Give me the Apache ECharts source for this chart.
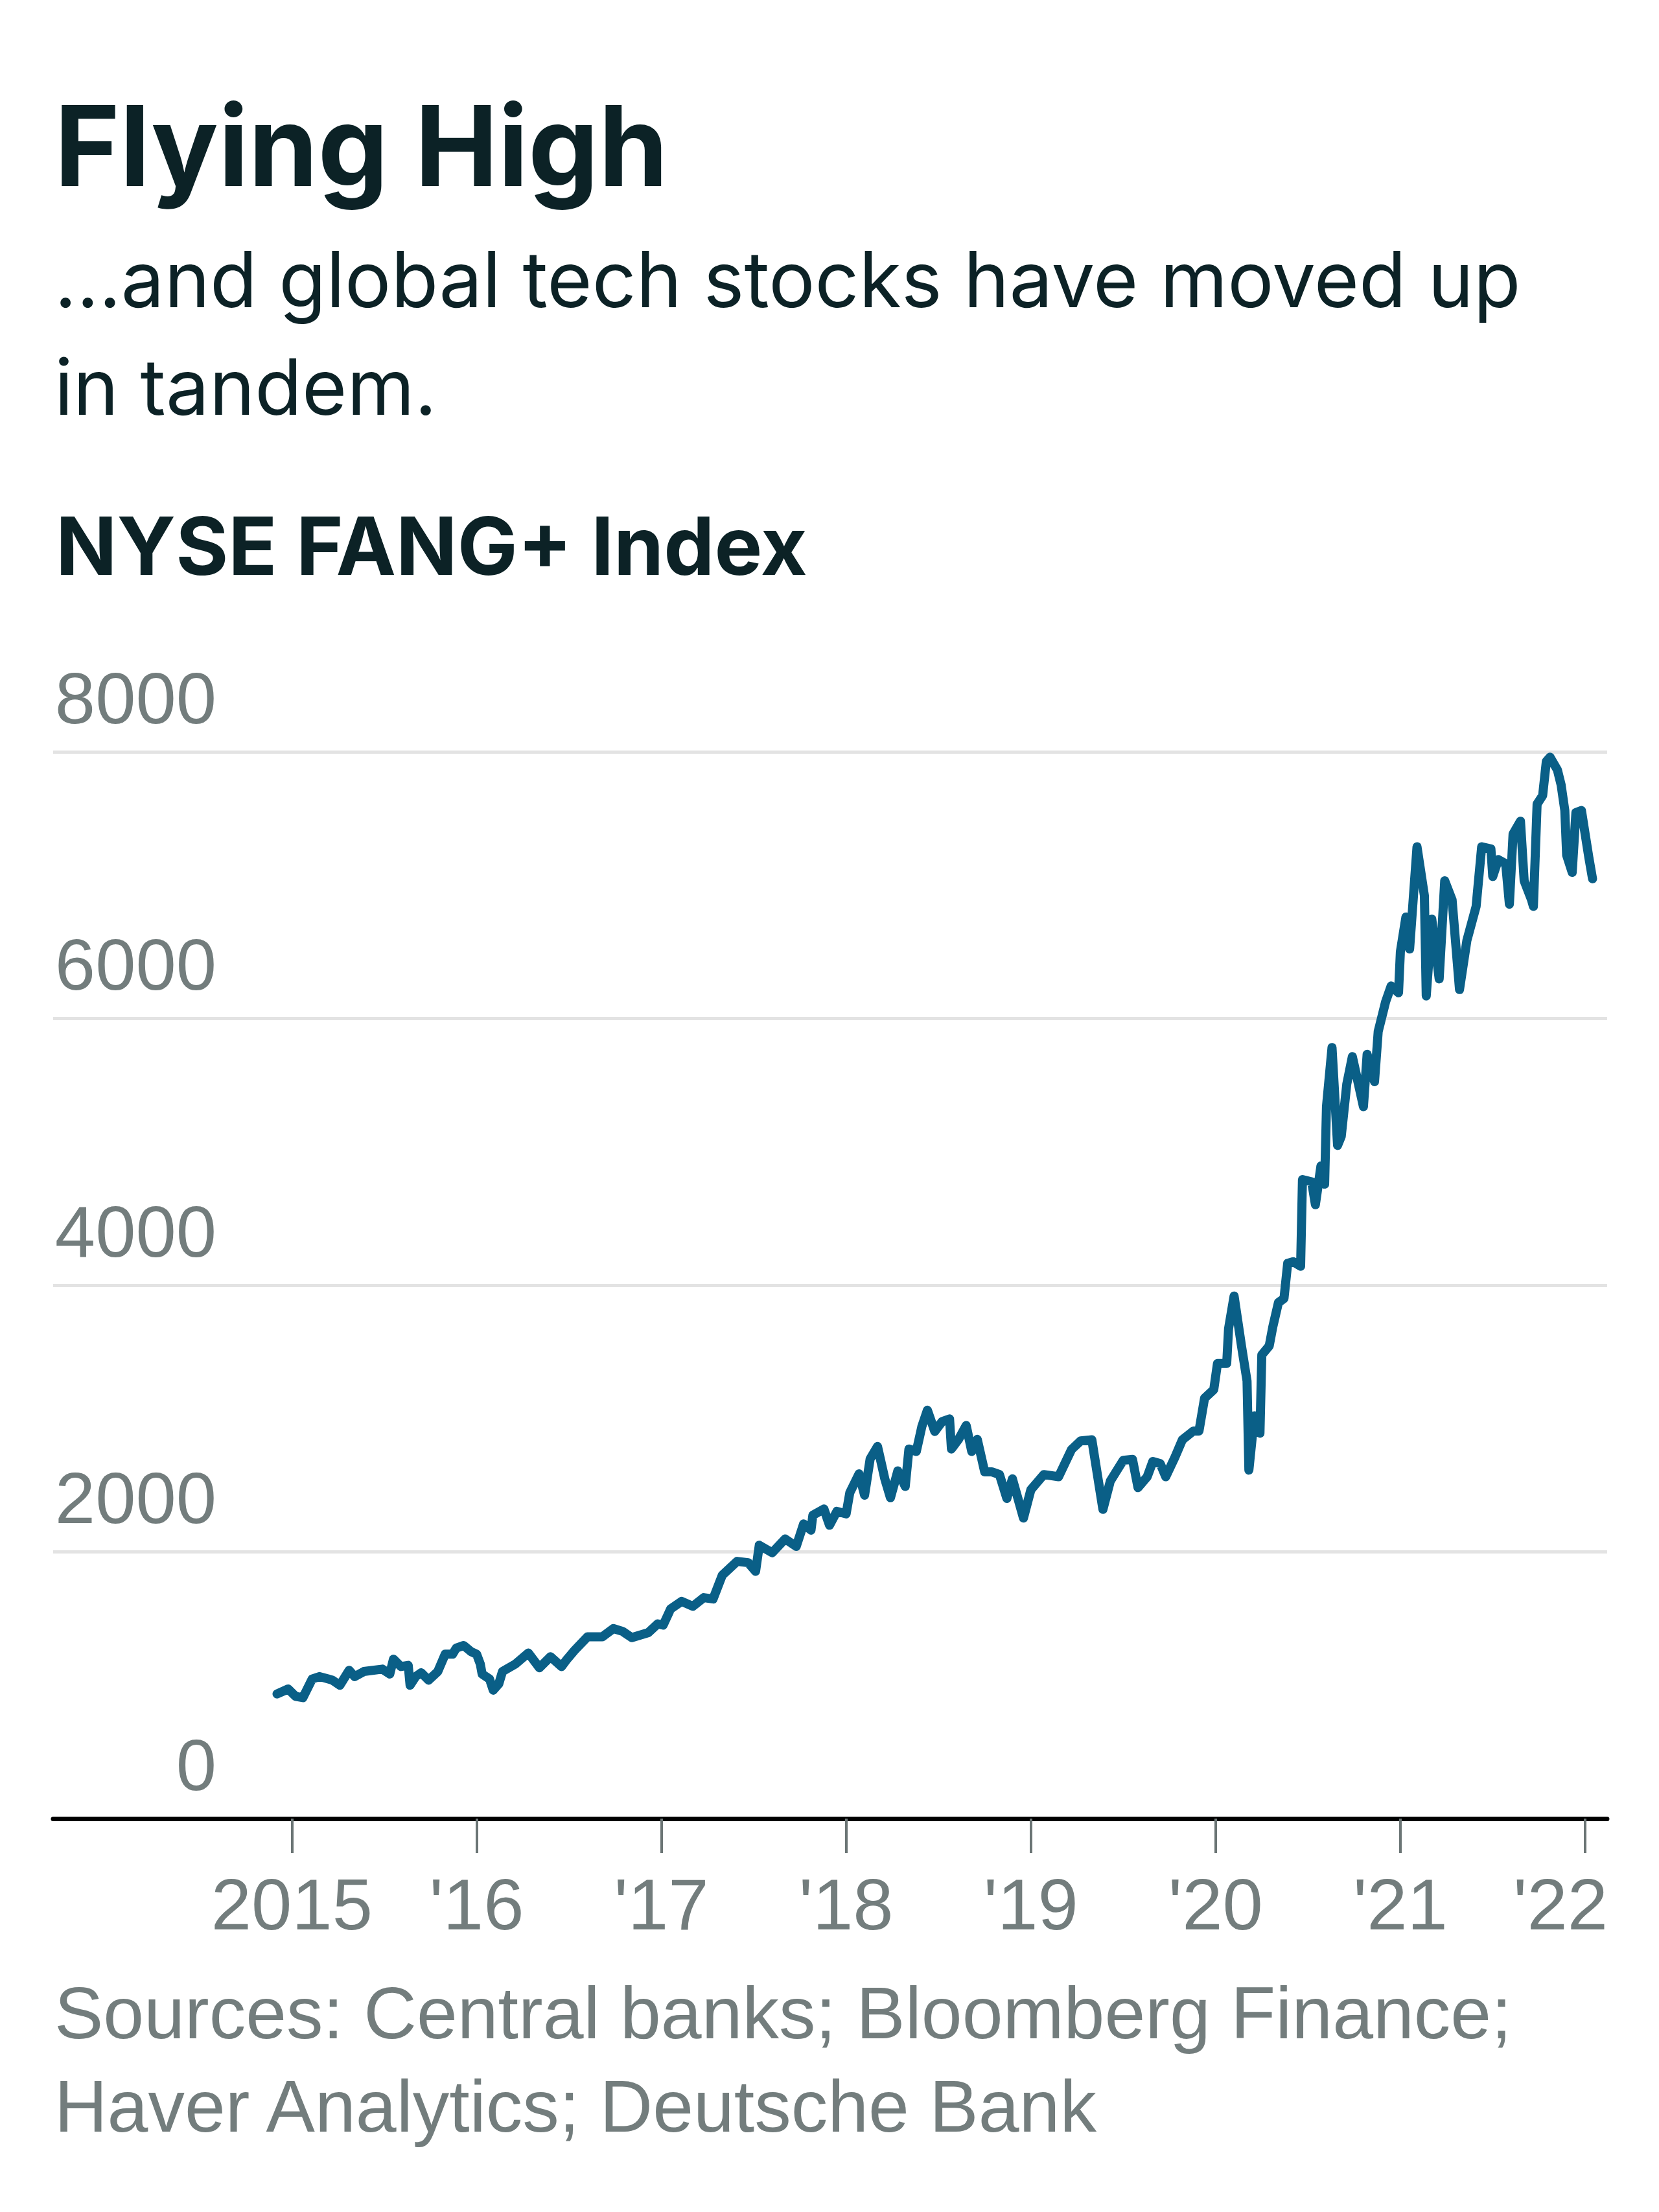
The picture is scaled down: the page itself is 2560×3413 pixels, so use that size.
<!DOCTYPE html>
<html>
<head>
<meta charset="utf-8">
<title>Flying High</title>
<script src="https://cdn.jsdelivr.net/npm/echarts@6/dist/echarts.min.js"></script>
<style>
  html, body { margin: 0; padding: 0; background: #fff; }
  #chart { width: 2560px; height: 3413px; }
</style>
</head>
<body>
<div id="chart"></div>
<script>
// position on the time axis, in decimal years
var yearPos = [
    2014.92, 2014.98, 2015.02, 2015.06, 2015.11, 2015.15, 2015.22, 2015.26, 2015.31, 2015.34,
    2015.39, 2015.49, 2015.53, 2015.55, 2015.59, 2015.63, 2015.64, 2015.67, 2015.70, 2015.74,
    2015.79, 2015.83, 2015.87, 2015.89, 2015.93, 2015.97, 2016.00, 2016.02, 2016.03, 2016.07,
    2016.09, 2016.12, 2016.14, 2016.21, 2016.28, 2016.34, 2016.40, 2016.46, 2016.49, 2016.53,
    2016.60, 2016.68, 2016.74, 2016.79, 2016.84, 2016.93, 2016.98, 2017.01, 2017.05, 2017.11,
    2017.17, 2017.23, 2017.28, 2017.33, 2017.41, 2017.47, 2017.51, 2017.53, 2017.60, 2017.67,
    2017.73, 2017.77, 2017.81, 2017.82, 2017.88, 2017.91, 2017.95, 2018.00, 2018.02, 2018.07,
    2018.10, 2018.13, 2018.17, 2018.21, 2018.24, 2018.28, 2018.32, 2018.34, 2018.38, 2018.41,
    2018.44, 2018.48, 2018.52, 2018.56, 2018.57, 2018.61, 2018.65, 2018.68, 2018.71, 2018.75,
    2018.79, 2018.83, 2018.87, 2018.90, 2018.96, 2019.00, 2019.07, 2019.15, 2019.22, 2019.27,
    2019.33, 2019.39, 2019.43, 2019.50, 2019.55, 2019.58, 2019.63, 2019.66, 2019.70, 2019.73,
    2019.78, 2019.82, 2019.88, 2019.91, 2019.94, 2019.99, 2020.01, 2020.06, 2020.07, 2020.10,
    2020.14, 2020.17, 2020.18, 2020.21, 2020.24, 2020.25, 2020.29, 2020.31, 2020.34, 2020.37,
    2020.39, 2020.42, 2020.46, 2020.47, 2020.52, 2020.54, 2020.57, 2020.59, 2020.60, 2020.63,
    2020.66, 2020.68, 2020.71, 2020.74, 2020.80, 2020.82, 2020.86, 2020.88, 2020.92, 2020.95,
    2020.99, 2021.00, 2021.03, 2021.05, 2021.09, 2021.13, 2021.14, 2021.17, 2021.21, 2021.24,
    2021.28, 2021.32, 2021.36, 2021.41, 2021.44, 2021.49, 2021.50, 2021.53, 2021.57, 2021.59,
    2021.61, 2021.65, 2021.67, 2021.71, 2021.72, 2021.74, 2021.77, 2021.79, 2021.81, 2021.85,
    2021.87, 2021.89, 2021.90, 2021.93, 2021.95, 2021.98, 2022.00, 2022.02, 2022.04
];

// NYSE FANG+ index level
var fangValues = [
    935, 972, 917, 907, 1047, 1065, 1038, 1000, 1112, 1065,
    1103, 1121, 1084, 1196, 1140, 1149, 1000, 1065, 1094, 1038,
    1103, 1233, 1233, 1279, 1298, 1252, 1233, 1159, 1084, 1047,
    963, 1010, 1103, 1159, 1242, 1131, 1214, 1140, 1196, 1261,
    1363, 1363, 1425, 1404, 1357, 1395, 1460, 1451, 1572, 1629,
    1592, 1657, 1647, 1826, 1929, 1919, 1854, 2050, 1994, 2097,
    2041, 2210, 2163, 2275, 2322, 2200, 2304, 2285, 2444, 2585,
    2425, 2697, 2791, 2545, 2406, 2608, 2491, 2772, 2753, 2941,
    3063, 2903, 2978, 2997, 2772, 2847, 2948, 2753, 2844, 2600,
    2600, 2580, 2401, 2548, 2254, 2466, 2580, 2564, 2768, 2833,
    2841, 2319, 2531, 2687, 2694, 2482, 2564, 2678, 2662, 2564,
    2711, 2841, 2907, 2907, 3152, 3217, 3413, 3413, 3674, 3919,
    3544, 3282, 2613, 3021, 2890, 3478, 3544, 3691, 3870, 3900,
    4164, 4176, 4142, 4792, 4775, 4604, 4894, 4758, 5339, 5783,
    5048, 5116, 5509, 5714, 5339, 5731, 5526, 5903, 6125, 6244,
    6193, 6500, 6761, 6521, 7288, 6921, 6169, 6745, 6297, 7033,
    6889, 6217, 6585, 6841, 7288, 7272, 7065, 7192, 7161, 6857,
    7384, 7480, 7033, 6889, 6841, 7608, 7672, 7928, 7960, 7864,
    7752, 7560, 7224, 7096, 7544, 7560, 7384, 7208, 7048
];

var tickYears = [2015, 2016, 2017, 2018, 2019, 2020, 2021, 2022];
var tickLabels = ['2015', "'16", "'17", "'18", "'19", "'20", "'21", "'22"];

var dark = '#0c2226';
var grey = '#737d7d';
var headFont = 'Inter, "Noto Sans", sans-serif';
var axisFont = '"Liberation Sans", Arial, sans-serif';

var seriesData = yearPos.map(function (x, i) {
    return [x, fangValues[i]];
});

var myChart = echarts.init(document.getElementById('chart'), null, { renderer: 'svg' });

var option = {
    backgroundColor: '#fff',
    animation: false,
    title: [
        {
            text: 'Flying High',
            left: 84,
            top: 138,
            padding: 0,
            textStyle: { fontFamily: headFont, fontWeight: 700, fontSize: 172, lineHeight: 172, color: dark }
        },
        {
            text: '...and global tech stocks have moved up\nin tandem.',
            left: 84,
            top: 348,
            padding: 0,
            textStyle: { fontFamily: headFont, fontWeight: 400, fontSize: 119, lineHeight: 166, color: dark }
        },
        {
            text: 'NYSE FANG+ Index',
            left: 86,
            top: 780,
            padding: 0,
            textStyle: { fontFamily: headFont, fontWeight: 700, fontSize: 124, lineHeight: 124, color: dark }
        },
        {
            text: 'Sources: Central banks; Bloomberg Finance;\nHaver Analytics; Deutsche Bank',
            left: 84,
            top: 3034,
            padding: 0,
            textStyle: { fontFamily: axisFont, fontWeight: 400, fontSize: 113, lineHeight: 144, color: grey }
        }
    ],
    grid: {
        left: 82,
        right: 69,
        top: 1160,
        bottom: 607,
        containLabel: false
    },
    xAxis: {
        type: 'value',
        min: 2013.708,
        max: 2022.119,
        splitLine: { show: false },
        axisLine: { show: true, lineStyle: { color: '#000', width: 7 } },
        axisTick: {
            show: true,
            customValues: tickYears,
            length: 53,
            lineStyle: { color: '#6b7575', width: 4 }
        },
        axisLabel: {
            customValues: tickYears,
            margin: 76,
            fontFamily: axisFont,
            fontSize: 112,
            lineHeight: 112,
            color: grey,
            formatter: function (v) {
                var i = tickYears.indexOf(Math.round(v));
                var s = tickLabels[i];
                return i === tickYears.length - 1 ? '{last|' + s + '}' : s;
            },
            rich: {
                last: {
                    fontFamily: axisFont,
                    fontSize: 112,
                    lineHeight: 112,
                    color: grey,
                    padding: [0, 76, 0, 0]
                }
            }
        }
    },
    yAxis: {
        type: 'value',
        min: 0,
        max: 8000,
        interval: 2000,
        axisLine: { show: false },
        axisTick: { show: false },
        splitLine: { lineStyle: { color: '#e3e3e3', width: 5 } },
        axisLabel: {
            inside: true,
            align: 'right',
            verticalAlign: 'bottom',
            margin: 252,
            padding: [0, 0, 27, 0],
            fontFamily: axisFont,
            fontSize: 112,
            lineHeight: 112,
            color: grey,
            formatter: function (v) {
                return String(v);
            }
        }
    },
    series: [
        {
            name: 'NYSE FANG+ Index',
            type: 'line',
            data: seriesData,
            showSymbol: false,
            symbol: 'none',
            lineStyle: { color: '#0a5f87', width: 14, join: 'round', cap: 'round' },
            z: 3
        }
    ]
};

myChart.setOption(option);
</script>
</body>
</html>
